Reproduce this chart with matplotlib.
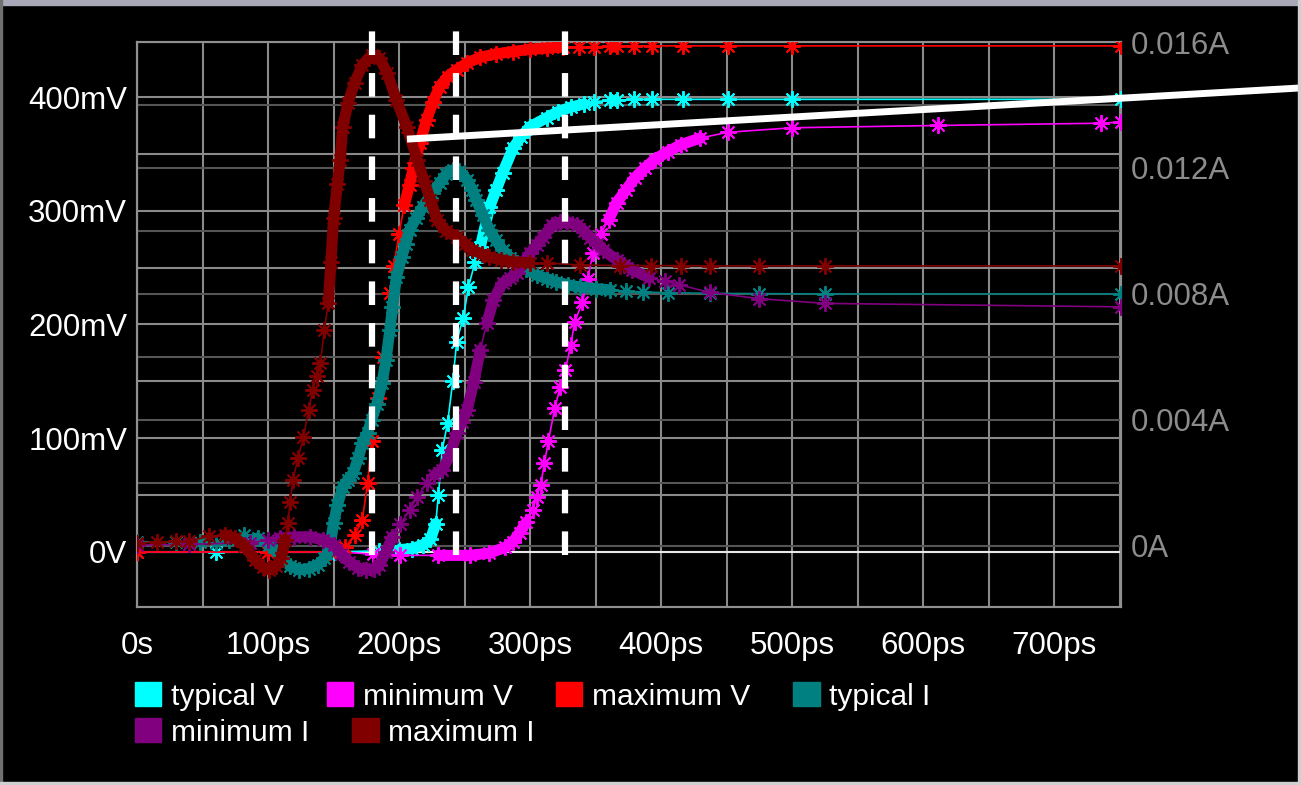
import matplotlib
matplotlib.use("Agg")
import matplotlib.pyplot as plt
from matplotlib.patches import Patch, Rectangle
from matplotlib.ticker import MultipleLocator, FuncFormatter

plt.rcParams["font.family"] = ["Liberation Sans", "DejaVu Sans"]
plt.rcParams["lines.scale_dashes"] = False

# time in ps, voltage in mV, current in mA
t_max_v = [0, 100, 147, 159, 166, 172, 176, 179, 184, 188, 193, 196, 200, 204, 208, 211, 216, 221, 226,
           231, 237, 244, 252, 262, 274, 287, 300, 313, 325, 337, 349, 361, 366, 379, 393, 417, 451, 500, 751]
v_max = [0, 0, 0, 4, 15, 28, 61, 98, 135, 171, 228, 251, 280, 305, 323, 338, 360, 380, 396,
         409, 418, 424, 430, 435, 438, 440, 442, 443, 444, 444, 444, 445, 445, 445, 445, 445, 445, 445, 445]

t_typ_v = [0, 60, 150, 185, 200, 210, 218, 224, 228, 230, 233, 237, 241, 244, 249, 253, 258, 262, 269, 274,
           279, 287, 293, 300, 313, 321, 331, 341, 349, 361, 366, 379, 393, 417, 451, 500, 751]
v_typ = [0, 0, 0, 1, 2, 3, 6, 11, 25, 50, 90, 113, 150, 185, 206, 233, 255, 268, 303, 318,
         333, 355, 365, 374, 382, 387, 391, 394, 396, 397, 397, 398, 398, 398, 398, 398, 398]

t_min_v = [0, 100, 155, 180, 201, 230, 254, 269, 281, 287, 292, 297, 302, 305, 308, 311, 314, 319, 323, 327,
           331, 334, 340, 344, 348, 354, 360, 366, 373, 380, 388, 395, 405, 415, 430, 451, 500, 611, 736, 751]
v_min = [0, 0, 0, -2, -3, -3, -3, -1, 4, 9, 17, 26, 37, 48, 59, 78, 98, 127, 145, 160,
         182, 202, 220, 240, 263, 280, 292, 307, 318, 329, 338, 345, 352, 358, 364, 369, 373, 375, 377, 378]

t_typ_i = [0, 30, 48, 60, 70, 82, 92, 101, 110, 117, 124, 131, 138, 143, 147, 150, 153, 157, 161, 165,
           169, 172, 176, 179, 183, 187, 190, 193, 195, 198, 202, 205, 208, 213, 218, 225, 231, 236, 241,
           246, 252, 256, 259, 264, 269, 274, 279, 285, 290, 297, 305, 313, 320, 329, 338, 350, 361, 373,
           386, 405, 437, 475, 525, 751]
i_typ = [0.13, 0.13, 0.13, 0.10, 0.20, 0.35, 0.25, 0.03, -0.35, -0.65, -0.76, -0.72, -0.60, -0.40, -0.13,
         0.73, 1.30, 1.87, 2.10, 2.32, 2.80, 3.27, 3.60, 4.00, 4.50, 5.17, 5.90, 6.86, 7.59, 8.54, 9.17,
         9.60, 10.03, 10.40, 10.76, 11.20, 11.52, 11.80, 11.94, 11.90, 11.62, 11.30, 10.98, 10.50, 10.03,
         9.70, 9.40, 9.15, 8.98, 8.78, 8.60, 8.48, 8.38, 8.29, 8.22, 8.17, 8.13, 8.09, 8.06, 8.04, 8.02,
         8.01, 8.00, 8.00]

t_min_i = [0, 40, 86, 100, 109, 120, 132, 142, 150, 156, 162, 169, 175, 181, 185, 190, 195, 201, 208, 214,
           221, 227, 233, 239, 244, 248, 252, 257, 262, 267, 272, 279, 285, 290, 295, 300, 305, 310, 317,
           323, 328, 336, 341, 346, 351, 356, 366, 372, 378, 391, 403, 414, 437, 475, 525, 751]
i_min = [0.03, 0.05, 0.10, 0.20, 0.25, 0.28, 0.29, 0.20, 0.03, -0.25, -0.51, -0.70, -0.76, -0.72, -0.60,
         -0.20, 0.29, 0.70, 1.14, 1.55, 2.00, 2.25, 2.41, 2.90, 3.59, 3.95, 4.32, 5.20, 6.22, 7.08, 7.81,
         8.35, 8.50, 8.67, 9.00, 9.30, 9.55, 9.81, 10.19, 10.28, 10.29, 10.19, 10.00, 9.78, 9.60, 9.40,
         9.08, 8.92, 8.76, 8.51, 8.40, 8.29, 8.05, 7.85, 7.70, 7.59]

t_max_i = [0, 15, 30, 40, 55, 67, 75, 82, 90, 96, 101, 106, 110, 113, 115, 117, 119, 123, 127, 131, 134,
           137, 140, 143, 146, 148, 150, 153, 155, 157, 161, 166, 172, 179, 185, 191, 198, 206, 214, 219,
           224, 229, 236, 244, 250, 256, 263, 269, 278, 287, 300, 313, 338, 369, 392, 415, 437, 475, 525, 751]
i_max = [0.10, 0.12, 0.15, 0.16, 0.30, 0.35, 0.25, 0.00, -0.44, -0.68, -0.76, -0.65, -0.40, 0.20, 0.73,
         1.40, 2.10, 2.80, 3.46, 4.30, 4.95, 5.40, 5.81, 6.86, 7.71, 9.00, 10.40, 11.50, 12.25, 13.30,
         14.06, 14.70, 15.27, 15.59, 15.49, 15.02, 14.16, 13.30, 12.25, 11.60, 10.98, 10.35, 10.00, 9.81,
         9.60, 9.40, 9.27, 9.17, 9.08, 9.02, 8.99, 8.98, 8.92, 8.90, 8.90, 8.90, 8.89, 8.89, 8.89, 8.89]

# time windows (ps) where the simulator steps were so dense the markers merge into a band
dense_max_v = [(204, 335)]
dense_typ_v = [(200, 228), (262, 345)]
dense_min_v = [(230, 300), (355, 430)]
dense_typ_i = [(92, 365)]
dense_min_i = [(105, 200), (225, 262), (267, 395)]
dense_max_i = [(60, 113), (146, 300)]

# annotations drawn over the chart
cursor_t = [179.4, 243.5, 326.7]
pointer_t = [206, 888]
pointer_v = [363, 408]

fig = plt.figure(figsize=(13.01, 7.85), dpi=100, facecolor="black")
ax = fig.add_axes([137 / 1301, 178 / 785, 984 / 1301, 565 / 785])
ax.set_facecolor("black")
ax.set_xlim(0, 751)
ax.set_ylim(-48.4, 448.4)
ax2 = ax.twinx()
ax2.set_ylim(-1.94, 16.0)

grid1 = "#8a8a8a"
grid2 = "#555555"

ax.xaxis.set_major_locator(MultipleLocator(100))
ax.xaxis.set_minor_locator(MultipleLocator(50))
ax.yaxis.set_major_locator(MultipleLocator(100))
ax.yaxis.set_minor_locator(MultipleLocator(50))
ax.grid(which="both", color=grid1, lw=1.5)
ax.axhline(0, color="#e8e8e8", lw=1.5)
ax2.yaxis.set_major_locator(MultipleLocator(4))
ax2.yaxis.set_minor_locator(MultipleLocator(2))
ax2.set_axisbelow(True)
ax2.grid(which="both", color=grid2, lw=1.5)

ax.xaxis.set_major_formatter(FuncFormatter(lambda v, p: "0s" if v == 0 else f"{v:g}ps"))
ax.yaxis.set_major_formatter(FuncFormatter(lambda v, p: "0V" if v == 0 else f"{v:g}mV"))
ax2.yaxis.set_major_formatter(FuncFormatter(lambda v, p: f"{v / 1000:g}A"))

fs = 22.5
ax.tick_params(axis="x", which="both", length=0, pad=17, labelsize=fs, labelcolor="white")
ax.tick_params(axis="y", which="both", length=0, pad=7, labelsize=fs, labelcolor="white")
ax2.tick_params(axis="y", which="both", length=0, pad=7, labelsize=fs, labelcolor="#8c8c8c")

for a in (ax, ax2):
    for s in a.spines.values():
        s.set_color("#909090")
        s.set_linewidth(1.5)
ax.spines["left"].set_color("#c8c8c8")

marker = (8, 2, 0)
series = [
    (t_typ_v, v_typ, "#00ffff", "typical V", "v", dense_typ_v),
    (t_min_v, v_min, "#ff00ff", "minimum V", "v", dense_min_v),
    (t_max_v, v_max, "#ff0000", "maximum V", "v", dense_max_v),
    (t_typ_i, i_typ, "#008080", "typical I", "i", dense_typ_i),
    (t_min_i, i_min, "#800080", "minimum I", "i", dense_min_i),
    (t_max_i, i_max, "#800000", "maximum I", "i", dense_max_i),
]
for t, y, col, name, kind, dense in series:
    tr = ax.transData if kind == "v" else ax2.transData
    for t0, t1 in dense:
        tt = [a for a in t if t0 <= a <= t1]
        yy = [b for a, b in zip(t, y) if t0 <= a <= t1]
        ax2.plot(tt, yy, color=col, lw=8, solid_capstyle="round", transform=tr, zorder=3)
    ax2.plot(t, y, color=col, lw=1.2, marker=marker, ms=12, mew=1.4, transform=tr, zorder=3)

for x in cursor_t:
    ln = ax2.axvline(x, ymin=0.092, ymax=1.021, color="white", lw=4.5, clip_on=False, zorder=5)
    ln.set_dashes([17, 13])
ax2.plot(pointer_t, pointer_v, color="white", lw=5, transform=ax.transData, clip_on=False,
         solid_capstyle="butt", zorder=6)

# legend, two rows
handles = [Patch(facecolor=s[2], edgecolor=s[2]) for s in series]
names = [s[3] for s in series]
leg_kw = dict(frameon=False, loc="upper left", fontsize=21.5, labelcolor="white", handlelength=0.88,
              handleheight=0.88, handletextpad=0.32, columnspacing=1.45, borderpad=0, borderaxespad=0)
fig.legend(handles[:4], names[:4], ncol=4, bbox_to_anchor=(135 / 1301, 1 - 682 / 785), **leg_kw)
fig.legend(handles[4:], names[4:], ncol=2, bbox_to_anchor=(135 / 1301, 1 - 718 / 785), **leg_kw)

# window frame
fig.add_artist(Rectangle((0, 1 - 5 / 785), 1, 5 / 785, transform=fig.transFigure, color="#a8a8b8", zorder=10))
fig.add_artist(Rectangle((0, 0), 2 / 1301, 1, transform=fig.transFigure, color="#707070", zorder=10))
fig.add_artist(Rectangle((1298 / 1301, 0), 3 / 1301, 1, transform=fig.transFigure, color="#d0d0d0", zorder=10))
fig.add_artist(Rectangle((0, 0), 1, 3 / 785, transform=fig.transFigure, color="#d0d0d0", zorder=10))

fig.savefig("out.png", dpi=100, facecolor="black")
